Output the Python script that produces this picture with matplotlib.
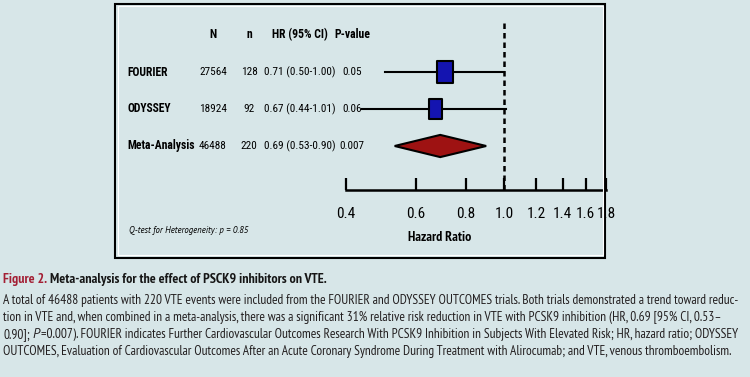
import matplotlib
matplotlib.use('Agg')
import matplotlib.pyplot as plt
from matplotlib import font_manager
from matplotlib.path import Path
from matplotlib.patches import Rectangle
from matplotlib.transforms import blended_transform_factory

# data
studies = ['FOURIER', 'ODYSSEY', 'Meta-Analysis']
n_patients = [27564, 18924, 46488]
n_events = [128, 92, 220]
hr = [0.71, 0.67, 0.69]
ci_lo = [0.50, 0.44, 0.53]
ci_hi = [1.00, 1.01, 0.90]
p_values = ['0.05', '0.06', '0.007']
xticks = [0.4, 0.6, 0.8, 1.0, 1.2, 1.4, 1.6, 1.8]


def pick(prefs, need='bold'):
    fonts = font_manager.fontManager.ttflist
    for name in prefs:
        fam = [f for f in fonts if f.name == name and '[' not in f.fname]
        if need == 'bold':
            ok = any(f.weight in (600, 700, 'bold', 'semibold') for f in fam)
        else:
            ok = any(f.style == 'italic' for f in fam)
        if ok:
            return name
    return 'Liberation Sans'


CHART = pick(['Liberation Sans Narrow', 'Arial Narrow', 'Nimbus Sans Narrow',
              'Roboto Condensed', 'Archivo Narrow', 'Barlow Semi Condensed', 'Asap Condensed'])
CAPT = pick(['Myriad Pro', 'PT Sans Narrow', 'Open Sans Condensed', 'Asap Condensed',
             'Encode Sans Condensed', 'Barlow Semi Condensed', 'Roboto Condensed'])
ITAL = pick(['PT Sans', 'Asap Condensed', 'Barlow Semi Condensed', 'Open Sans'], need='italic')

BG = '#d7e6e8'
BLUE = '#1414b0'
RED = '#9e1212'
W, H = 750, 377


def fx(px):
    return px / W


def fy(py):
    return 1 - py / H


fig = plt.figure(figsize=(7.5, 3.77), dpi=100, facecolor=BG)
renderer = fig.canvas.get_renderer()


def width(s, family, **kw):
    t = fig.text(0, 0, s, family=family, **kw)
    w = t.get_window_extent(renderer).width
    t.remove()
    return w


def fit(s, target, family, **kw):
    return 10 * target / width(s, family, fontsize=10, **kw)


# frame around the forest plot (black line with a thin white line inside)
fig.add_artist(Rectangle((fx(115), fy(257.5)), fx(605) - fx(115), fy(3.5) - fy(257.5),
                         transform=fig.transFigure, fill=False, ec='black', lw=1.5))
fig.add_artist(Rectangle((fx(117.5), fy(255)), fx(602.5) - fx(117.5), fy(6) - fy(255),
                         transform=fig.transFigure, fill=False, ec='white', lw=0.8))

ax = fig.add_axes([fx(346), fy(190), fx(606) - fx(346), fy(20) - fy(190)])
ax.set_facecolor('none')
ax.set_xscale('log')
ax.set_xlim(0.4, 1.8)
ax.set_ylim(1 - 44 / 37, 1 + 126 / 37)
rows = list(range(len(studies), 0, -1))
header_y = len(studies) + 1

for s in ['top', 'left', 'right']:
    ax.spines[s].set_visible(False)
ax.spines['bottom'].set_bounds(0.4, 1.8)
ax.spines['bottom'].set_linewidth(1.8)
ax.set_yticks([])
ax.set_xticks(xticks)
ax.set_xticklabels([f'{t:.1f}' for t in xticks])
ax.set_xticks([], minor=True)
tick_size = fit('0.4', 19, CHART)
ax.tick_params(axis='x', direction='in', length=9, width=1.6, pad=12,
               labelsize=tick_size, labelfontfamily=CHART)

# reference line at HR = 1
ax.plot([1.0, 1.0], [ax.get_ylim()[0], header_y + 0.32], color='black', lw=1.8,
        ls=(0, (2.2, 1.6)), clip_on=False, zorder=1)

# study rows
box_h = [15.8, 14.4]
box_aspect = [0.73, 0.65]
for i in range(2):
    y = rows[i]
    ax.plot([ci_lo[i], ci_hi[i]], [y, y], color='black', lw=1.5, zorder=2)
    a = box_aspect[i] / 2
    rect = Path([(-a, -0.5), (a, -0.5), (a, 0.5), (-a, 0.5), (-a, -0.5)],
                [Path.MOVETO, Path.LINETO, Path.LINETO, Path.LINETO, Path.CLOSEPOLY])
    ax.plot(hr[i], y, marker=rect, markersize=box_h[i], mfc=BLUE, mec='black',
            mew=1.5, zorder=3)

# pooled estimate diamond
ym = rows[2]
ax.fill([ci_lo[2], hr[2], ci_hi[2], hr[2]], [ym, ym + 0.3, ym, ym - 0.3],
        fc=RED, ec='black', lw=1.5, zorder=3)

# table text
tr = blended_transform_factory(fig.transFigure, ax.transData)
col_x = {'N': fx(213), 'n': fx(249), 'HR (95% CI)': fx(300), 'P-value': fx(352)}
grow = 1.12
head_size = fit('HR (95% CI)', 50, CHART, fontweight='bold') * grow
label_size = fit('Meta-Analysis', 60, CHART, fontweight='bold') * grow
val_size = fit('0.71 (0.50-1.00)', 63, CHART) * grow
for label, x in col_x.items():
    fig.text(x, header_y, label, transform=tr, ha='center', va='center',
             family=CHART, fontweight='bold', fontsize=head_size)
for i, name in enumerate(studies):
    y = rows[i]
    fig.text(fx(127), y, name, transform=tr, ha='left', va='center',
             family=CHART, fontweight='bold', fontsize=label_size)
    vals = [str(n_patients[i]), str(n_events[i]),
            f'{hr[i]:.2f} ({ci_lo[i]:.2f}-{ci_hi[i]:.2f})', p_values[i]]
    for x, v in zip(col_x.values(), vals):
        fig.text(x, y, v, transform=tr, ha='center', va='center',
                 family=CHART, fontsize=val_size)

q_text = 'Q-test for Heterogeneity: p = 0.85'
fig.text(fx(129), fy(230), q_text, ha='left', va='center', family=ITAL,
         fontstyle='italic', fontsize=fit(q_text, 119, ITAL, fontstyle='italic'))
fig.text(fx(440), fy(237), 'Hazard Ratio', ha='center', va='center', family=CAPT,
         fontweight='bold', fontsize=fit('Hazard Ratio', 63, CAPT, fontweight='bold'))

# caption


def draw_pieces(x_px, base_px, pieces, size):
    x = x_px
    sp = width('a a', CAPT, fontsize=size) - width('aa', CAPT, fontsize=size)
    for s, color, weight, style in pieces:
        if s == ' ':
            x += sp
            continue
        fam = ITAL if style == 'italic' else CAPT
        t = fig.text(fx(x), fy(base_px), s, color=color, fontsize=size, fontweight=weight,
                     fontstyle=style, family=fam, va='baseline', ha='left')
        x += t.get_window_extent(renderer).width + (1 if style == 'italic' else 0)


TXT = '#231f20'
title_a = 'Figure 2.'
title_b = 'Meta-analysis for the effect of PSCK9 inhibitors on VTE.'
title_pieces = [(title_a, '#a31f34', 'bold', 'normal'), (' ', None, None, None),
                (title_b, '#161616', 'bold', 'normal')]
body = [
    'A total of 46488 patients with 220 VTE events were included from the FOURIER and ODYSSEY OUTCOMES trials. Both trials demonstrated a trend toward reduc-',
    'tion in VTE and, when combined in a meta-analysis, there was a significant 31% relative risk reduction in VTE with PCSK9 inhibition (HR, 0.69 [95% CI, 0.53\u2013',
    None,
    'OUTCOMES, Evaluation of Cardiovascular Outcomes After an Acute Coronary Syndrome During Treatment with Alirocumab; and VTE, venous thromboembolism.',
]
line3 = [('0.90];', TXT, 'normal', 'normal'), (' ', None, None, None),
         ('P', TXT, 'normal', 'italic'),
         ('=0.007). FOURIER indicates Further Cardiovascular Outcomes Research With PCSK9 Inhibition in Subjects With Elevated Risk; HR, hazard ratio; ODYSSEY',
          TXT, 'normal', 'normal')]

body_size = fit(body[3], 734, CAPT)
title_size = fit(title_a + ' ' + title_b, 325, CAPT, fontweight='bold')

draw_pieces(3, 283, title_pieces, title_size)
baselines = [304, 321, 338, 354.5]
for line, b in zip(body, baselines):
    if line is None:
        draw_pieces(3, b, line3, body_size)
    else:
        fig.text(fx(3), fy(b), line, color=TXT, fontsize=body_size, family=CAPT,
                 va='baseline', ha='left')

fig.savefig('out.png', dpi=100, facecolor=BG)
